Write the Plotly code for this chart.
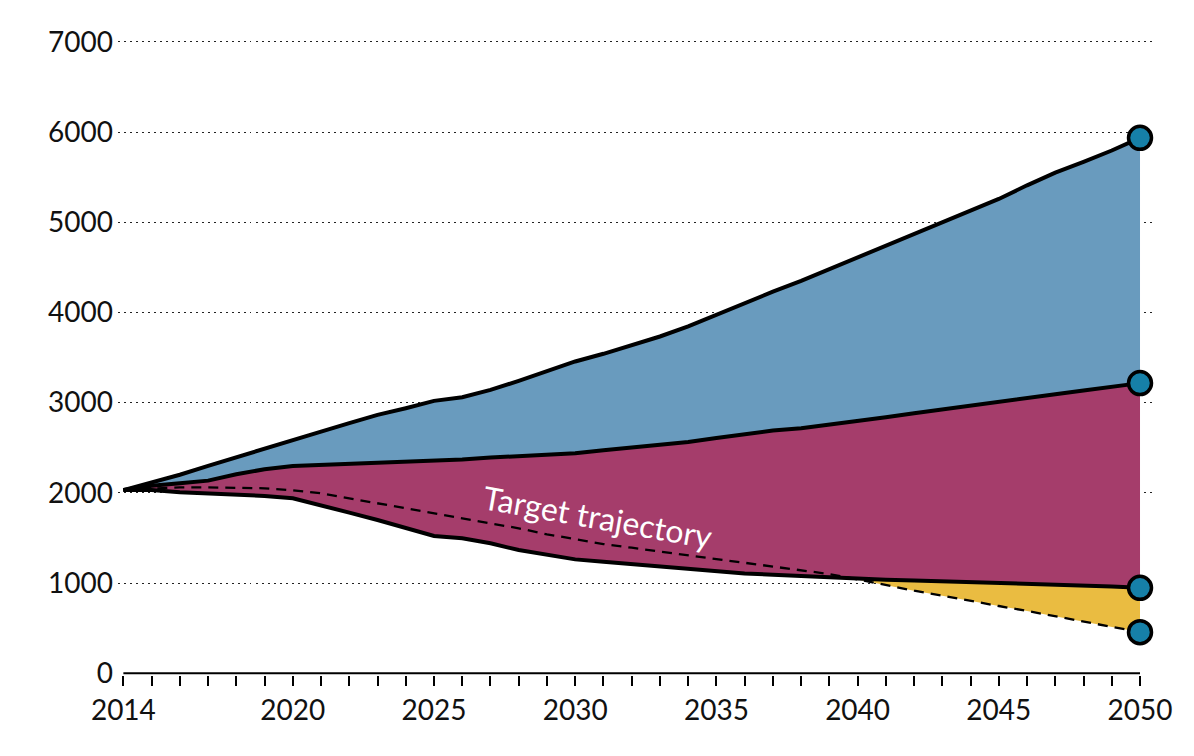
import plotly.graph_objects as go

years = list(range(2014, 2051))

top_line = [2030, 2115, 2200, 2298, 2394, 2494, 2594, 2679, 2772, 2864, 2938, 3019, 3060,
            3141, 3241, 3352, 3456, 3541, 3637, 3733, 3844, 3974, 4105, 4230,
            4350, 4480, 4615, 4740, 4880, 5010, 5132, 5258, 5409, 5550, 5670, 5795, 5935]

middle_line = [2030, 2079, 2105, 2135, 2205, 2261, 2298, 2309, 2323, 2339, 2350, 2361, 2368,
               2390, 2409, 2423, 2439, 2472, 2501, 2531, 2564, 2608, 2653, 2690,
               2716, 2753, 2797, 2838, 2883, 2927, 2971, 3016, 3053, 3093, 3134, 3178, 3216]

bottom_line = [2030, 2031, 2006, 1995, 1984, 1965, 1939, 1865, 1780, 1698, 1606, 1521, 1495,
               1440, 1365, 1310, 1262, 1236, 1210, 1180, 1154, 1124, 1106, 1091,
               1077, 1062, 1045, 1036, 1029, 1021, 1010, 1002, 991, 985, 977, 962, 947]

target_line = [2030, 2045, 2060, 2060, 2057, 2050, 2028, 1995, 1939, 1884, 1828, 1773, 1717,
               1662, 1606, 1540, 1484, 1432, 1391, 1347, 1310, 1265, 1224, 1180,
               1136, 1099, 1040, 975, 915, 860, 800, 745, 690, 630, 570, 515, 455]

x_labels = {2014: "2014", 2020: "2020", 2025: "2025", 2030: "2030", 2035: "2035",
            2040: "2040", 2045: "2045", 2050: "2050"}
y_ticks = [0, 1000, 2000, 3000, 4000, 5000, 6000, 7000]
label_text = "Target trajectory"

BLUE = "#699BBE"
PURPLE = "#A53D6B"
YELLOW = "#EABC41"
MARKER = "#1680A8"
FONT = "Lato"
TXT = "#111111"

fig = go.Figure()

# purple: between bottom and middle
fig.add_trace(go.Scatter(x=years, y=bottom_line, mode="lines", line=dict(width=0),
                         hoverinfo="skip", showlegend=False))
fig.add_trace(go.Scatter(x=years, y=middle_line, mode="lines", line=dict(width=0),
                         fill="tonexty", fillcolor=PURPLE, hoverinfo="skip", showlegend=False))
# blue: between middle and top
fig.add_trace(go.Scatter(x=years, y=top_line, mode="lines", line=dict(width=0),
                         fill="tonexty", fillcolor=BLUE, hoverinfo="skip", showlegend=False))
# yellow: between bottom line and target where target is lower (from 2040)
i0 = years.index(2040)
fig.add_trace(go.Scatter(x=years[i0:], y=bottom_line[i0:], mode="lines", line=dict(width=0),
                         hoverinfo="skip", showlegend=False))
fig.add_trace(go.Scatter(x=years[i0:], y=target_line[i0:], mode="lines", line=dict(width=0),
                         fill="tonexty", fillcolor=YELLOW, hoverinfo="skip", showlegend=False))

# lines
for ys in (top_line, middle_line, bottom_line):
    fig.add_trace(go.Scatter(x=years, y=ys, mode="lines",
                             line=dict(color="black", width=4),
                             hoverinfo="skip", showlegend=False))
fig.add_trace(go.Scatter(x=years, y=target_line, mode="lines",
                         line=dict(color="black", width=2.3, dash="10px,7px"),
                         hoverinfo="skip", showlegend=False))

# end markers
end_vals = [top_line[-1], middle_line[-1], bottom_line[-1], target_line[-1]]
fig.add_trace(go.Scatter(x=[years[-1]] * 4, y=end_vals, mode="markers",
                         marker=dict(size=23, color=MARKER, line=dict(color="black", width=3.5)),
                         cliponaxis=False, hoverinfo="skip", showlegend=False))

# baseline axis line from first to last year
fig.add_shape(type="line", x0=years[0], x1=years[-1], y0=0, y1=0, xref="x", yref="y",
              line=dict(color="black", width=2), layer="above")

fig.add_annotation(x=2030.8, y=1740, xref="x", yref="y", text=label_text, showarrow=False,
                   textangle=10, font=dict(family=FONT, size=32, color="white"))

fig.update_layout(
    width=1194, height=756,
    margin=dict(l=110, r=49, t=32, b=89, autoexpand=False),
    paper_bgcolor="white", plot_bgcolor="white",
    font=dict(family=FONT, size=28, color=TXT),
    showlegend=False,
    xaxis=dict(range=[2013.81, 2050.46], tickmode="array", tickvals=years,
               ticktext=[x_labels.get(y, "") for y in years],
               ticks="outside", ticklen=10, tickwidth=1.5, tickcolor="black",
               showgrid=False, showline=False, zeroline=False, automargin=False,
               tickfont=dict(family=FONT, size=28, color=TXT)),
    yaxis=dict(range=[-20, 7020], tickmode="array", tickvals=y_ticks,
               ticktext=[str(v) for v in y_ticks],
               showgrid=True, gridcolor="#222222", gridwidth=1, griddash="1.5px,4.5px",
               zeroline=True, zerolinecolor="white", zerolinewidth=3,
               showline=False, ticks="", ticklabelstandoff=4, automargin=False,
               tickfont=dict(family=FONT, size=28, color=TXT)),
)

fig.write_html("out.html")
